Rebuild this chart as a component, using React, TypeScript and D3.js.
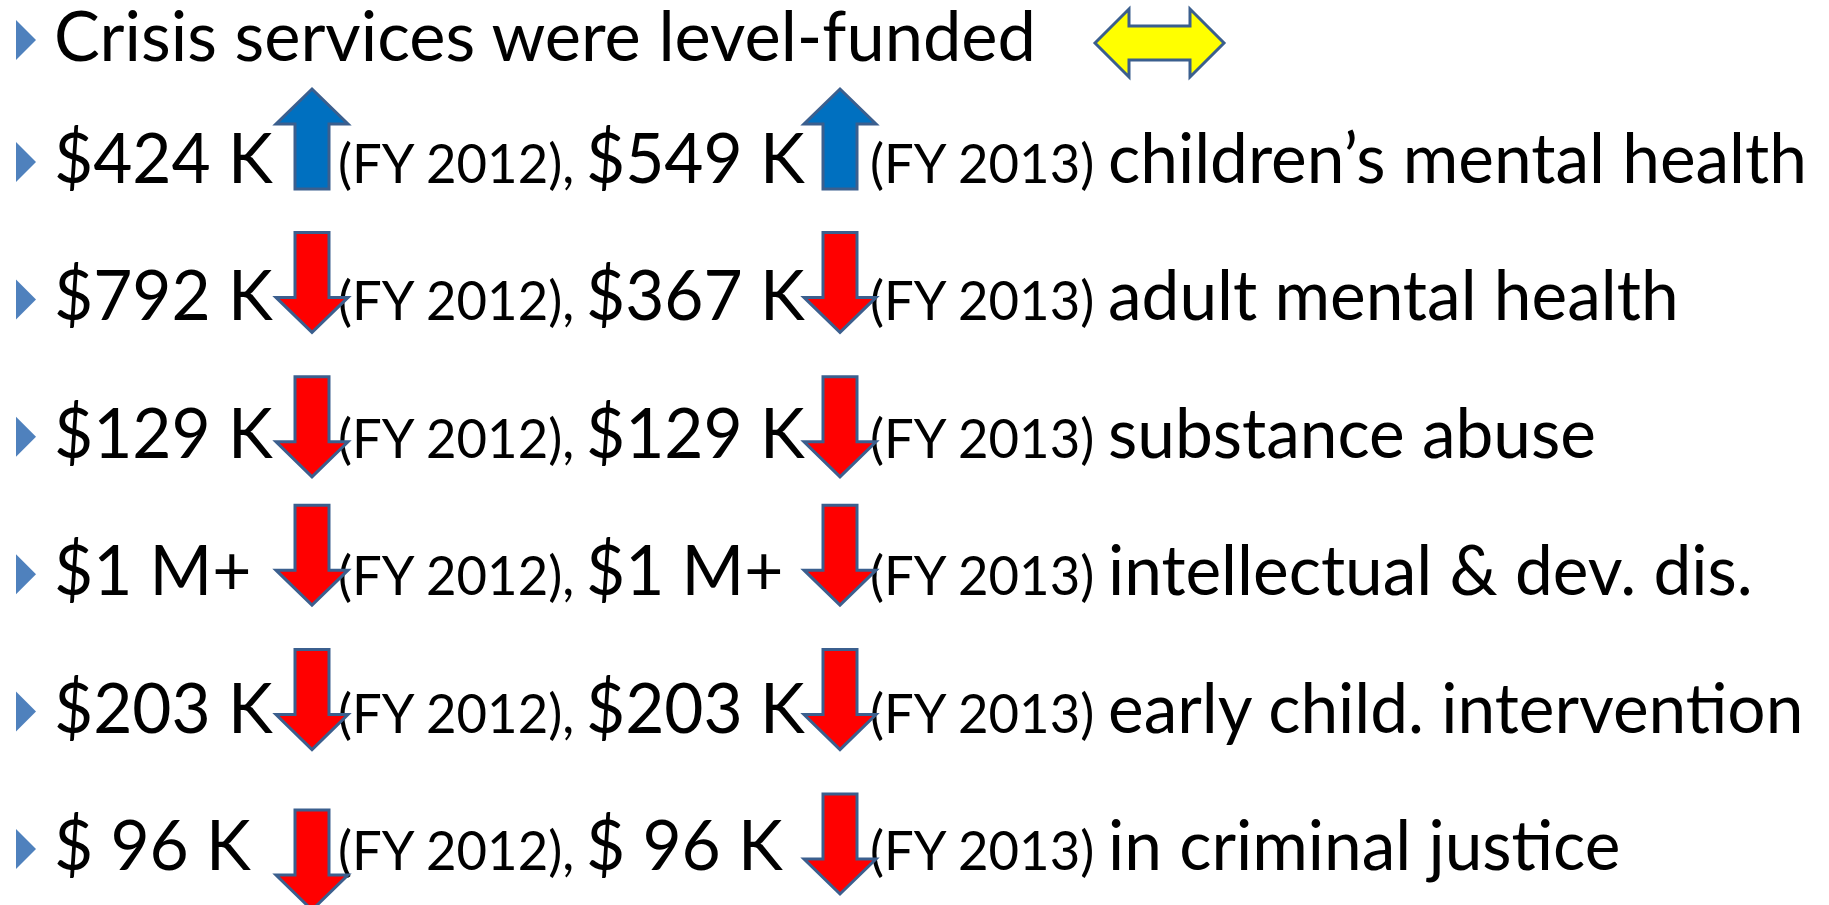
import React from "react";
import * as d3 from "d3";

// ---------- data ----------
const headline = "Crisis services were level-funded";
const fy2012Amounts = ["$424 K", "$792 K", "$129 K", "$1 M+", "$203 K", "$ 96 K"];
const fy2013Amounts = ["$549 K", "$367 K", "$129 K", "$1 M+", "$203 K", "$ 96 K"];
const changeDirections = ["up", "down", "down", "down", "down", "down"];
const programs = [
  "children\u2019s mental health",
  "adult mental health",
  "substance abuse",
  "intellectual & dev. dis.",
  "early child. intervention",
  "in criminal justice",
];
const fiscalYearLabels = ["(FY 2012),", "(FY 2013)"];

// ---------- layout / style ----------
const W = 1829;
const H = 905;
const FONT = "Lato, 'Open Sans', sans-serif";
const BIG = 70;
const SMALL = 54;
const SX_HEAD = 0.98;
const SX_BIG = 0.965;
const SX_SMALL = 0.975;
const HEADLINE_BASELINE = 61;
const arrowTopOffsets = [
  [-94, -94],
  [-88, -88],
  [-81, -81],
  [-90, -90],
  [-83, -83],
  [-60, -76],
];
const COL = { bullet: 16, amount1: 54, arrow1: 312, fy1: 338, amount2: 586, arrow2: 840, fy2: 870, label: 1108 };
const ARROW = { headW: 72, shaftW: 34, headL: 35, len: 100 };
const DOUBLE = { x0: 1095, x1: 1224, y0: 9, y1: 77, headL: 34, shaftH: 34 };
const COLORS = { up: "#0070C0", down: "#FF0000", level: "#FFFF00", outline: "#3B5F8E", bullet: "#4F81BD" };

const rowY = d3
  .scalePoint<number>()
  .domain(d3.range(programs.length))
  .range([183, 870]);

const closed = d3.line().curve(d3.curveLinearClosed);

function arrowPoints(cx: number, top: number, dir: string): [number, number][] {
  const { headW, shaftW, headL, len } = ARROW;
  const hw = headW / 2;
  const sw = shaftW / 2;
  if (dir === "up") {
    return [
      [cx, top],
      [cx + hw, top + headL],
      [cx + sw, top + headL],
      [cx + sw, top + len],
      [cx - sw, top + len],
      [cx - sw, top + headL],
      [cx - hw, top + headL],
    ];
  }
  const hb = top + len - headL;
  return [
    [cx - sw, top],
    [cx + sw, top],
    [cx + sw, hb],
    [cx + hw, hb],
    [cx, top + len],
    [cx - hw, hb],
    [cx - sw, hb],
  ];
}

function doubleArrowPoints(): [number, number][] {
  const { x0, x1, y0, y1, headL, shaftH } = DOUBLE;
  const cy = (y0 + y1) / 2;
  const s0 = cy - shaftH / 2;
  const s1 = cy + shaftH / 2;
  return [
    [x0, cy],
    [x0 + headL, y0],
    [x0 + headL, s0],
    [x1 - headL, s0],
    [x1 - headL, y0],
    [x1, cy],
    [x1 - headL, y1],
    [x1 - headL, s1],
    [x0 + headL, s1],
    [x0 + headL, y1],
  ];
}

function bulletPoints(baseline: number): [number, number][] {
  const c = baseline - 21;
  return [
    [COL.bullet, c - 20],
    [COL.bullet + 20, c],
    [COL.bullet, c + 20],
  ];
}

function T({ x, y, size, sx, children }: { x: number; y: number; size: number; sx: number; children: React.ReactNode }) {
  return (
    <text transform={`translate(${x},${y}) scale(${sx},1)`} fontSize={size} fill="#000">
      {children}
    </text>
  );
}

export default function App() {
  const rows = programs.map((p, i) => ({
    i,
    y: rowY(i) as number,
    a1: fy2012Amounts[i],
    a2: fy2013Amounts[i],
    dir: changeDirections[i],
    label: p,
  }));

  return (
    <svg
      width={W}
      height={H}
      viewBox={`0 0 ${W} ${H}`}
      style={{ position: "absolute", left: 0, top: 0, background: "#ffffff" }}
      fontFamily={FONT}
    >
      <rect x={0} y={0} width={W} height={H} fill="#ffffff" />

      {/* headline */}
      <path d={closed(bulletPoints(HEADLINE_BASELINE)) || ""} fill={COLORS.bullet} />
      <T x={COL.amount1} y={HEADLINE_BASELINE} size={BIG} sx={SX_HEAD}>
        {headline}
      </T>
      <path
        d={closed(doubleArrowPoints()) || ""}
        fill={COLORS.level}
        stroke={COLORS.outline}
        strokeWidth={3}
      />

      {rows.map((r) => (
        <g key={r.i}>
          <path d={closed(bulletPoints(r.y)) || ""} fill={COLORS.bullet} />
          <T x={COL.amount1} y={r.y} size={BIG} sx={SX_BIG}>
            {r.a1}
          </T>
          <T x={COL.fy1} y={r.y} size={SMALL} sx={SX_SMALL}>
            {fiscalYearLabels[0]}
          </T>
          <T x={COL.amount2} y={r.y} size={BIG} sx={SX_BIG}>
            {r.a2}
          </T>
          <T x={COL.fy2} y={r.y} size={SMALL} sx={SX_SMALL}>
            {fiscalYearLabels[1]}
          </T>
          <T x={COL.label} y={r.y} size={BIG} sx={SX_BIG}>
            {r.label}
          </T>
        </g>
      ))}

      {rows.map((r) => (
        <g key={"arr" + r.i}>
          <path
            d={closed(arrowPoints(COL.arrow1, r.y + arrowTopOffsets[r.i][0], r.dir)) || ""}
            fill={r.dir === "up" ? COLORS.up : COLORS.down}
            stroke={COLORS.outline}
            strokeWidth={3}
          />
          <path
            d={closed(arrowPoints(COL.arrow2, r.y + arrowTopOffsets[r.i][1], r.dir)) || ""}
            fill={r.dir === "up" ? COLORS.up : COLORS.down}
            stroke={COLORS.outline}
            strokeWidth={3}
          />
        </g>
      ))}
    </svg>
  );
}
